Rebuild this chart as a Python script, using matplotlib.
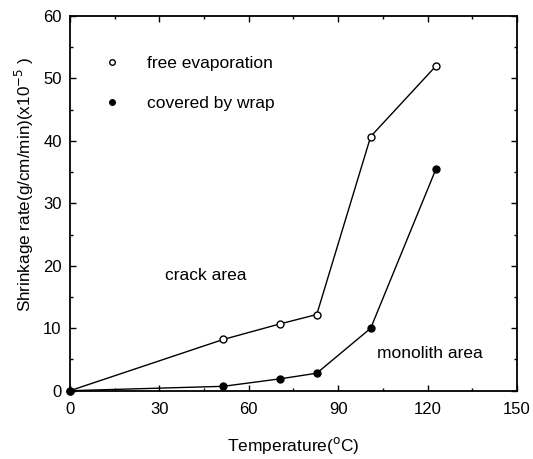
import matplotlib
matplotlib.use("Agg")
import matplotlib.pyplot as plt
from matplotlib.lines import Line2D

plt.rcParams['font.family'] = ['Liberation Sans', 'DejaVu Sans']

# shrinkage rate vs drying temperature
temperature = [0, 51.4, 70.5, 82.8, 100.9, 122.8]
free_evaporation = [0, 8.2, 10.7, 12.2, 40.7, 52.0]
covered_by_wrap = [0, 0.7, 1.9, 2.8, 10.0, 35.5]

series_labels = ["free evaporation", "covered by wrap"]
x_ticks = [0, 30, 60, 90, 120, 150]
y_ticks = [0, 10, 20, 30, 40, 50, 60]

fig = plt.figure(figsize=(5.33, 4.59), dpi=100)
ax = fig.add_axes([0.1313, 0.1488, 0.8387, 0.8163])

ax.plot(temperature, free_evaporation, color="black", lw=1.0,
        marker="o", ms=5, mfc="white", mec="black", mew=1.0, clip_on=False)
ax.plot(temperature, covered_by_wrap, color="black", lw=1.0,
        marker="o", ms=5, mfc="black", mec="black", clip_on=False, zorder=3)

ax.set_xlim(0, 150)
ax.set_ylim(0, 60)
ax.set_xticks(x_ticks)
ax.set_yticks(y_ticks)
ax.set_yticks(range(5, 60, 10), minor=True)
ax.set_xticks(range(15, 150, 30), minor=True)
ax.tick_params(which="both", direction="in", top=True, right=True,
               labelsize=12)
ax.tick_params(which="major", length=4, width=1)
ax.tick_params(which="minor", length=2.5, width=1)
ax.tick_params(axis="x", pad=8)
ax.tick_params(axis="y", pad=6)
for s in ax.spines.values():
    s.set_linewidth(1.3)

ax.set_xlabel("Temperature($^{\\mathrm{o}}$C)", fontsize=12.5, labelpad=13)
ax.set_ylabel("Shrinkage rate(g/cm/min)(x10$^{-5}$ )", fontsize=12.3)
ax.yaxis.set_label_coords(-0.076, 0.55)

handles = [
    Line2D([], [], ls="none", marker="o", ms=4, mfc="white", mec="black"),
    Line2D([], [], ls="none", marker="o", ms=4, mfc="black", mec="black"),
]
ax.legend(handles, series_labels, loc="upper left", frameon=False,
          fontsize=12.5, labelspacing=1.4, handlelength=1.0,
          handletextpad=1.5, bbox_to_anchor=(0.04, 0.935))

ax.text(32, 18.5, "crack area", fontsize=12.5, ha="left", va="center")
ax.text(103, 6.0, "monolith area", fontsize=12.5, ha="left", va="center")

fig.savefig("out.png", dpi=100)
